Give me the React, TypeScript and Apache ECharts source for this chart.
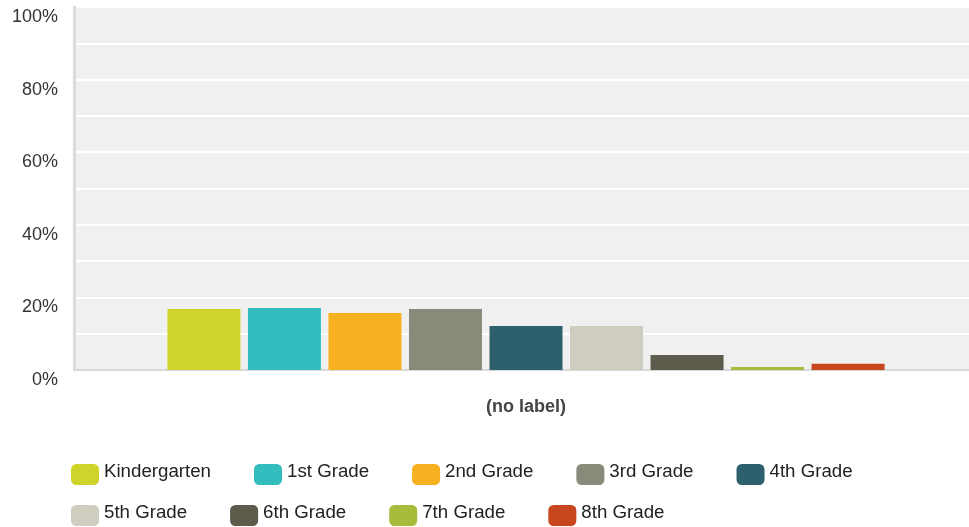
import React, { useEffect, useRef } from "react";
import * as echarts from "echarts";

const categories = ["(no label)"];
const seriesNames = [
  "Kindergarten",
  "1st Grade",
  "2nd Grade",
  "3rd Grade",
  "4th Grade",
  "5th Grade",
  "6th Grade",
  "7th Grade",
  "8th Grade",
];
const seriesValues = [16.8, 17.1, 15.7, 16.8, 12.1, 12.1, 4.1, 0.8, 1.7];
const seriesColors = [
  "#d0d42a",
  "#34bdbf",
  "#f7b020",
  "#8a8a7a",
  "#2e5f6d",
  "#cfcdbf",
  "#5c5b4c",
  "#a8bb3a",
  "#c8461d",
];
const yTicks = [0, 20, 40, 60, 80, 100];

const FONT = "'Liberation Sans', Arial, Helvetica, sans-serif";

export default function App() {
  const ref = useRef<HTMLDivElement>(null);
  useEffect(() => {
    if (!ref.current) return;
    const chart = echarts.init(ref.current, undefined, { renderer: "svg" });
    const legendCommon = {
      orient: "horizontal" as const,
      itemWidth: 28,
      itemHeight: 21,
      itemGap: 43,
      padding: 0,
      icon: "roundRect",
      formatter: "{a|{name}}",
      textStyle: {
        fontSize: 18.7,
        color: "#222",
        fontFamily: FONT,
        rich: {
          a: {
            fontSize: 18.7,
            color: "#222",
            fontFamily: FONT,
            lineHeight: 13,
            padding: [0, 0, 8, 0],
          },
        },
      },
    };
    chart.setOption({
      animation: false,
      textStyle: { fontFamily: FONT },
      grid: {
        left: 74,
        top: 7,
        width: 904,
        height: 363,
        show: true,
        backgroundColor: "#f0f0f0",
        borderWidth: 0,
        containLabel: false,
        outerBoundsMode: "none",
      },
      legend: [
        { ...legendCommon, left: 71, top: 461, data: seriesNames.slice(0, 5) },
        { ...legendCommon, left: 71, top: 502, data: seriesNames.slice(5) },
      ],
      xAxis: {
        type: "category",
        data: categories,
        axisTick: { show: false },
        axisLine: { show: true, lineStyle: { color: "#d8d8d8", width: 2 } },
        axisLabel: {
          margin: 27,
          fontSize: 18,
          fontWeight: "bold",
          color: "#444",
          fontFamily: FONT,
        },
        splitLine: { show: false },
      },
      yAxis: {
        type: "value",
        min: 0,
        max: 100,
        interval: 10,
        axisLine: { show: true, lineStyle: { color: "#dadada", width: 3 } },
        axisTick: { show: false },
        splitLine: { show: true, lineStyle: { color: "#ffffff", width: 2 } },
        axisLabel: {
          margin: 16,
          fontSize: 18,
          color: "#333",
          fontFamily: FONT,
          verticalAlign: "top",
          formatter: (v: number) => (yTicks.includes(v) ? v + "%" : ""),
        },
      },
      series: seriesNames.map((name, i) => ({
        name,
        type: "bar",
        data: [seriesValues[i]],
        barWidth: 73,
        barGap: "10.3%",
        itemStyle: { color: seriesColors[i] },
      })),
    });
    return () => chart.dispose();
  }, []);
  return (
    <div
      ref={ref}
      style={{ position: "fixed", left: 0, top: 0, width: 969, height: 527 }}
    />
  );
}
